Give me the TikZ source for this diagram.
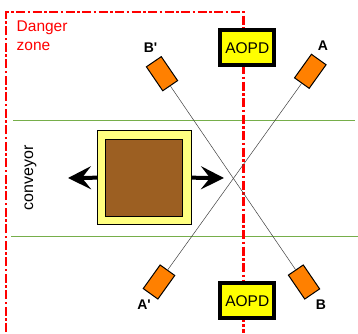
\documentclass[tikz,border=0pt]{standalone}
\usepackage{fontspec}
\setmainfont{Liberation Sans}
\usepackage{xcolor}
\usetikzlibrary{arrows.meta}
\definecolor{danger_red}{HTML}{FF0000}
\definecolor{belt_green}{HTML}{76AE4A}
\definecolor{aopd_yellow}{HTML}{FFFF00}
\definecolor{pallet_yellow}{HTML}{FFFF80}
\definecolor{load_brown}{HTML}{9C5F22}
\definecolor{sensor_orange}{HTML}{FF8000}
\tikzset{
  aopd/.style={draw=black,line width=4pt,fill=aopd_yellow,minimum width=54pt,minimum height=35pt,inner sep=0pt,font=\fontsize{15.5}{18}\selectfont},
  sensor/.style={draw=black,line width=1pt,fill=sensor_orange,minimum width=29pt,minimum height=18pt,inner sep=0pt},
  sensorlabel/.style={inner sep=0pt,font=\fontsize{14}{16}\selectfont\bfseries},
  beam/.style={black!75,line width=0.5pt},
  belt/.style={belt_green,line width=1pt},
  zone/.style={danger_red,line width=2.4pt,dash pattern=on 9pt off 2.5pt on 2.5pt off 2.5pt},
  move/.style={-{Stealth[length=23pt,width=23pt,inset=9pt]},line width=4pt,black}
}
\begin{document}
\begin{tikzpicture}[x=1pt,y=-1pt]
    \useasboundingbox (0,0) rectangle (358,333);
    % conveyor edges
    \coordinate (belt1l) at (13,120.7);
    \coordinate (belt1r) at (355,120.7);
    \coordinate (belt2l) at (11,236);
    \coordinate (belt2r) at (358,236);
    \draw[belt] (belt1l) -- (belt1r);
    \draw[belt] (belt2l) -- (belt2r);
    % danger zone outline
    \coordinate (zone_a) at (6,332);
    \coordinate (zone_b) at (6,12);
    \coordinate (zone_c) at (243.5,12);
    \coordinate (zone_d) at (243.5,333);
    \draw[zone] (zone_a) -- (zone_b) -- (zone_c) -- (zone_d);
    \node[inner sep=0pt,anchor=north west,align=left,text=danger_red,font=\fontsize{15.5}{18.7}\selectfont] (zonetext) at (16.5,21) {Danger\\zone};
    \node[rotate=90,inner sep=0pt,font=\fontsize{16}{18}\selectfont] (conveyor) at (30.5,178) {conveyor};
    % load on the conveyor
    \node[draw=black,line width=1pt,fill=pallet_yellow,minimum size=94pt,inner sep=0pt] (pallet) at (144,177.7) {};
    \node[draw=black,line width=1pt,fill=load_brown,minimum size=77pt,inner sep=0pt] (load) at (144,177.7) {};
    \coordinate (left_tip) at (68,178);
    \coordinate (right_tip) at (224,178);
    \draw[move,shorten <=-1pt] (pallet.west) -- (left_tip);
    \draw[move] (pallet.east) -- (right_tip);
    % sensors
    \node[sensor,rotate=54.4] (sensor_a) at (310.3,71.3) {};
    \node[sensor,rotate=54.4] (sensor_ap) at (159,282) {};
    \node[sensor,rotate=-55.7] (sensor_bp) at (162,73.7) {};
    \node[sensor,rotate=-55.7] (sensor_b) at (304,282) {};
    \draw[beam] (sensor_a) -- (sensor_ap);
    \draw[beam] (sensor_bp) -- (sensor_b);
    \node[sensorlabel] (label_a) at (323,45.7) {A};
    \node[sensorlabel] (label_ap) at (144,305) {A\textquotesingle};
    \node[sensorlabel] (label_bp) at (150.5,47.5) {B\textquotesingle};
    \node[sensorlabel] (label_b) at (321,305) {B};
    % AOPD units
    \node[aopd] (aopd_top) at (247.3,47.7) {AOPD};
    \node[aopd] (aopd_bottom) at (247.3,300.8) {AOPD};
  \end{tikzpicture}
\end{document}
